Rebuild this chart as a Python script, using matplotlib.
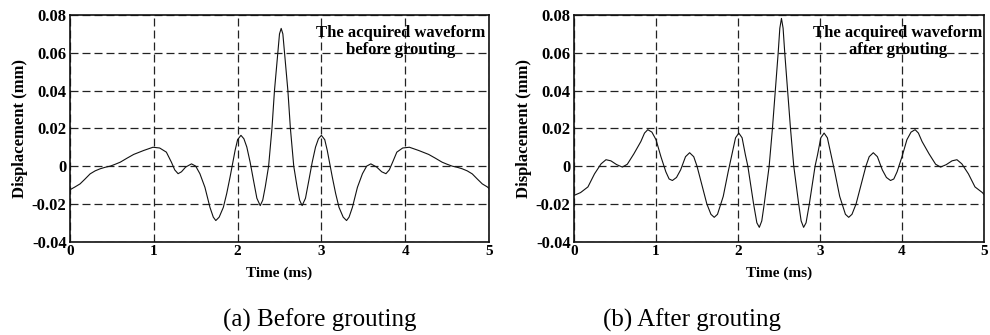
import matplotlib
matplotlib.use("Agg")
import matplotlib.pyplot as plt

# ---------------- data ----------------
t_before = [0.00, 0.06, 0.12, 0.18, 0.24, 0.30, 0.36, 0.42, 0.48, 0.54, 0.60, 0.68, 0.76, 0.88,
            0.99, 1.07, 1.15, 1.21, 1.25, 1.29, 1.33, 1.38, 1.45, 1.50, 1.55, 1.61, 1.67, 1.71,
            1.74, 1.78, 1.83, 1.87, 1.91, 1.97, 2.00, 2.04, 2.075, 2.11, 2.15, 2.19, 2.23, 2.27,
            2.30, 2.33, 2.37, 2.41, 2.44, 2.48, 2.50, 2.52,
            2.54, 2.56, 2.60, 2.63, 2.67, 2.71, 2.74, 2.77, 2.81, 2.85, 2.89, 2.93, 2.965, 3.00,
            3.04, 3.07, 3.13, 3.17, 3.21, 3.26, 3.30, 3.33, 3.37, 3.43, 3.49, 3.54, 3.59, 3.66,
            3.72, 3.77, 3.81, 3.85, 3.90, 3.97, 4.05, 4.16, 4.28, 4.36, 4.44, 4.50, 4.56, 4.62,
            4.68, 4.74, 4.80, 4.86, 4.92, 4.98, 5.00]
v_before = [-0.0125, -0.0110, -0.0094, -0.0068, -0.0041, -0.0025, -0.0014, -0.0006, 0.0000, 0.0010,
            0.0021, 0.0042, 0.0062, 0.0083, 0.0100, 0.0096, 0.0074, 0.0021, -0.0020, -0.0040,
            -0.0030, -0.0005, 0.0012, 0.0000, -0.0040, -0.0112, -0.0218, -0.0270, -0.0288, -0.0270,
            -0.0218, -0.0145, -0.0058, 0.0083, 0.0140, 0.0163, 0.0145, 0.0101, 0.0020, -0.0076,
            -0.0170, -0.0209, -0.0180, -0.0110, 0.0000, 0.0200, 0.0400, 0.0600, 0.0700, 0.0729,
            0.0700, 0.0600, 0.0400, 0.0200, 0.0000, -0.0110, -0.0180, -0.0209, -0.0170, -0.0076,
            0.0020, 0.0101, 0.0145, 0.0163, 0.0140, 0.0083, -0.0058, -0.0145, -0.0218, -0.0270,
            -0.0288, -0.0270, -0.0218, -0.0112, -0.0040, 0.0000, 0.0012, -0.0005, -0.0030, -0.0040,
            -0.0020, 0.0021, 0.0074, 0.0096, 0.0100, 0.0083, 0.0062, 0.0042, 0.0021, 0.0010,
            0.0000, -0.0006, -0.0014, -0.0025, -0.0041, -0.0068, -0.0094, -0.0110, -0.0118]

t_after = [0.00, 0.08, 0.17, 0.25, 0.33, 0.39, 0.45, 0.52, 0.59, 0.65, 0.73, 0.815, 0.86, 0.90,
           0.95, 1.00, 1.06, 1.12, 1.16, 1.20, 1.25, 1.30, 1.36, 1.41, 1.46, 1.50, 1.56, 1.62,
           1.67, 1.71, 1.75, 1.82, 1.88, 1.92, 1.97, 2.01, 2.05, 2.09, 2.12, 2.19, 2.23, 2.26,
           2.29, 2.32, 2.38, 2.42, 2.455, 2.49, 2.51, 2.53,
           2.55, 2.57, 2.605, 2.64, 2.68, 2.74, 2.77, 2.80, 2.83, 2.87, 2.94, 2.97, 3.01, 3.05,
           3.09, 3.14, 3.18, 3.24, 3.31, 3.35, 3.39, 3.44, 3.50, 3.56, 3.60, 3.65, 3.70, 3.76,
           3.81, 3.86, 3.90, 3.94, 4.00, 4.06, 4.11, 4.16, 4.20, 4.245, 4.33, 4.41, 4.47, 4.54,
           4.61, 4.67, 4.73, 4.81, 4.89, 4.98, 5.00]
v_after = [-0.0155, -0.0140, -0.0110, -0.0041, 0.0012, 0.0034, 0.0028, 0.0008, -0.0005, 0.0010,
           0.0065, 0.0130, 0.0175, 0.0193, 0.0180, 0.0140, 0.0050, -0.0030, -0.0068, -0.0076,
           -0.0060, -0.0020, 0.0050, 0.0071, 0.0050, 0.0000, -0.0100, -0.0200, -0.0255, -0.0271,
           -0.0255, -0.0160, -0.0030, 0.0050, 0.0150, 0.0175, 0.0150, 0.0060, 0.0000, -0.0200,
           -0.0300, -0.0324, -0.0290, -0.0200, 0.0000, 0.0200, 0.0400, 0.0600, 0.0730, 0.0782,
           0.0730, 0.0600, 0.0400, 0.0200, 0.0000, -0.0200, -0.0290, -0.0324, -0.0300, -0.0200,
           0.0000, 0.0060, 0.0150, 0.0175, 0.0150, 0.0050, -0.0030, -0.0160, -0.0255, -0.0271,
           -0.0255, -0.0200, -0.0100, 0.0000, 0.0050, 0.0071, 0.0050, -0.0020, -0.0060, -0.0076,
           -0.0068, -0.0030, 0.0050, 0.0140, 0.0180, 0.0193, 0.0175, 0.0130, 0.0065, 0.0010,
           -0.0005, 0.0008, 0.0028, 0.0034, 0.0012, -0.0041, -0.0110, -0.0140, -0.0150]

x_ticks = [0, 1, 2, 3, 4, 5]
x_tick_labels = ["0", "1", "2", "3", "4", "5"]
y_ticks = [-0.04, -0.02, 0.0, 0.02, 0.04, 0.06, 0.08]
y_tick_labels = ["-0.04", "-0.02", "0", "0.02", "0.04", "0.06", "0.08"]
annotations = ["The acquired waveform\nbefore grouting", "The acquired waveform\nafter grouting"]
captions = ["(a) Before grouting", "(b) After grouting"]
x_label = "Time (ms)"
y_label = "Displacement (mm)"

# ---------------- figure ----------------
plt.rcParams['font.family'] = ['Liberation Serif', 'DejaVu Serif']
W, H = 990, 335
fig = plt.figure(figsize=(W / 100, H / 100), dpi=100)

panels = [
    (70, 419, t_before, v_before, annotations[0], captions[0], 320),
    (574, 410, t_after, v_after, annotations[1], captions[1], 692),
]
top_px, bot_px = 15, 241.7

for left_px, width_px, tt, vv, ann, cap, cap_x in panels:
    ax = fig.add_axes([left_px / W, 1 - bot_px / H, width_px / W, (bot_px - top_px) / H])
    ax.plot(tt, vv, color='#111111', lw=0.8)
    ax.set_xlim(0, 5)
    ax.set_ylim(-0.04, 0.08)
    ax.set_xticks(x_ticks)
    ax.set_xticklabels(x_tick_labels)
    ax.set_yticks(y_ticks)
    ax.set_yticklabels(y_tick_labels)
    ax.tick_params(length=0, pad=2.5)
    ax.tick_params(axis='x', labelsize=11)
    ax.tick_params(axis='y', labelsize=12)
    for lab in ax.get_xticklabels() + ax.get_yticklabels():
        lab.set_fontweight('bold')
    ax.grid(True, color='#222222', lw=0.9, linestyle=(0, (6.4, 3.2)))
    for sp in ax.spines.values():
        sp.set_linewidth(1.2)
        sp.set_color('#111111')
    ax.set_xlabel(x_label, fontsize=11, fontweight='bold', labelpad=6)
    ax.set_ylabel(y_label, fontsize=12, fontweight='bold', labelpad=3)
    ax.text(0.79, 0.955, ann, transform=ax.transAxes, ha='center', va='top',
            fontsize=12, fontweight='bold', linespacing=1.05)
    fig.text(cap_x / W, 1 - 320 / H, cap, ha='center', va='center', fontsize=18)

fig.savefig("out.png", dpi=100)
